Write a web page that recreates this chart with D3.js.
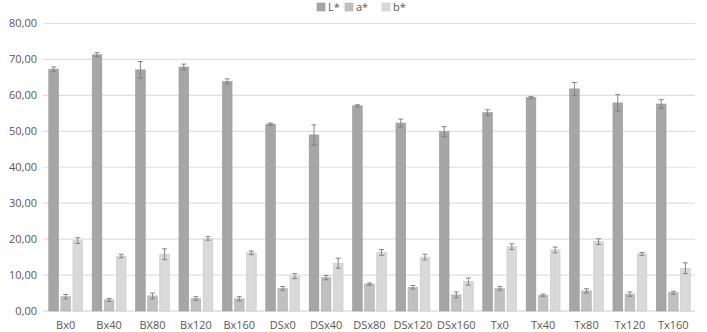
<!DOCTYPE html>
<html><head><meta charset="utf-8">
<script src="https://cdn.jsdelivr.net/npm/d3@7"></script>
<style>body{margin:0;background:#fff}svg{display:block}text{font-family:"Open Sans","Noto Sans",sans-serif;fill:#595959}</style>
</head><body><svg id="c" width="707" height="332"></svg>
<script>
const categories = ["Bx0","Bx40","BX80","Bx120","Bx160","DSx0","DSx40","DSx80","DSx120","DSx160","Tx0","Tx40","Tx80","Tx120","Tx160"];
const seriesNames = ["L*","a*","b*"];
const L = [67.3,71.3,67.1,67.9,63.9,52.0,49.0,57.1,52.3,49.9,55.2,59.4,61.8,57.9,57.6];
const Lerr = [0.6,0.6,2.3,0.8,0.7,0.3,2.8,0.3,1.1,1.4,0.8,0.3,1.8,2.3,1.2];
const A = [4.0,3.1,4.2,3.5,3.4,6.3,9.3,7.5,6.6,4.5,6.3,4.4,5.6,4.7,5.1];
const Aerr = [0.6,0.4,0.8,0.5,0.6,0.5,0.6,0.3,0.5,0.8,0.5,0.3,0.6,0.6,0.4];
const B = [19.6,15.3,15.8,20.2,16.2,9.7,13.3,16.3,15.0,8.2,17.9,17.0,19.3,15.9,11.9];
const Berr = [0.8,0.5,1.5,0.5,0.5,0.7,1.4,0.8,0.8,1.0,0.8,0.8,0.8,0.4,1.5];
const yTicks = [0,10,20,30,40,50,60,70,80];
const colors = ["#a6a6a6","#c0c0c0","#d9d9d9"];
const strokes = ["#999","#b0b0b0","#c8c8c8"];

(function(){
const svg = d3.select("#c");
const mLeft = 44, mRight = 695, mTop = 23.5, mBottom = 311;
const x = d3.scaleBand().domain(categories).range([mLeft, mRight]).paddingInner(0.22).paddingOuter(0.11);
const xs = d3.scaleBand().domain(seriesNames).range([0, x.bandwidth()]).paddingInner(0.2);
const y = d3.scaleLinear().domain([0,80]).range([mBottom, mTop]);

svg.append("g").selectAll("line").data(yTicks).join("line")
  .attr("x1", mLeft-1).attr("x2", mRight).attr("y1", d=>y(d)).attr("y2", d=>y(d))
  .attr("stroke", d=> d===0 ? "#d0d0d0" : "#e0e0e0").attr("stroke-width",1.2);

svg.append("g").selectAll("text").data(yTicks).join("text")
  .attr("x", 37).attr("y", d=>y(d)).attr("dy","0.35em").attr("text-anchor","end")
  .attr("font-size", 11).text(d=>d3.format(".2f")(d).replace(".",","));

const data = [L, A, B], errs = [Lerr, Aerr, Berr];
seriesNames.forEach((s, si) => {
  const g = svg.append("g");
  g.selectAll("rect").data(categories).join("rect")
    .attr("x", c => x(c) + xs(s)).attr("width", xs.bandwidth())
    .attr("y", (c,i) => y(data[si][i])).attr("height", (c,i) => y(0) - y(data[si][i]))
    .attr("fill", colors[si]).attr("stroke", strokes[si]).attr("stroke-width",0.6);
  const eg = svg.append("g").attr("stroke","#7a7a7a").attr("stroke-width",0.9);
  categories.forEach((c,i) => {
    const cx = x(c) + xs(s) + xs.bandwidth()/2;
    const v = data[si][i], e = errs[si][i];
    eg.append("line").attr("x1",cx).attr("x2",cx).attr("y1",y(v-e)).attr("y2",y(v+e));
    eg.append("line").attr("x1",cx-2.5).attr("x2",cx+2.5).attr("y1",y(v+e)).attr("y2",y(v+e));
    eg.append("line").attr("x1",cx-2.5).attr("x2",cx+2.5).attr("y1",y(v-e)).attr("y2",y(v-e));
  });
});

svg.append("g").selectAll("text").data(categories).join("text")
  .attr("x", c => x(c) + x.bandwidth()/2).attr("y", 325).attr("dy","0.35em")
  .attr("text-anchor","middle").attr("font-size", 11).text(c=>c);

const legX = [317, 345, 382];
const lg = svg.append("g");
seriesNames.forEach((s, i) => {
  lg.append("rect").attr("x", legX[i]).attr("y", 3).attr("width", 8).attr("height", 8)
    .attr("fill", colors[i]).attr("stroke", strokes[i]).attr("stroke-width",0.6);
  lg.append("text").attr("x", legX[i]+11).attr("y", 7.5).attr("dy","0.35em").attr("font-size", 11).text(s);
});
})();
</script></body></html>
